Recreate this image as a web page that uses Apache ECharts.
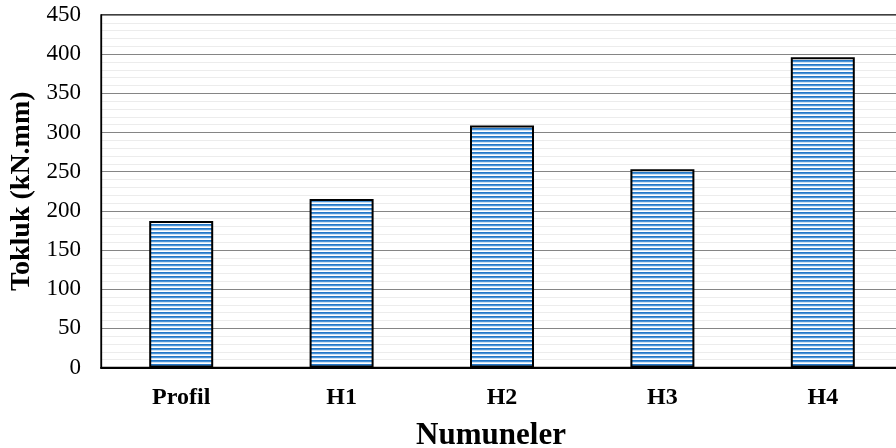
<!DOCTYPE html>
<html><head><meta charset="utf-8">
<script src="https://cdn.jsdelivr.net/npm/echarts@6/dist/echarts.min.js"></script>
<style>html,body{margin:0;padding:0;background:#fff}#c{width:896px;height:448px}</style>
</head><body><div id="c"></div>
<script>
const categories = ['Profil', 'H1', 'H2', 'H3', 'H4'];
const values = [187, 215, 309, 253, 396];
const yTicks = [0, 50, 100, 150, 200, 250, 300, 350, 400, 450];

const pc = document.createElement('canvas');
pc.width = 4; pc.height = 4;
const g = pc.getContext('2d');
const rows = ['#2477c8', '#4a93d6', '#cfe2f4', '#ffffff'];
rows.forEach((c, i) => { g.fillStyle = c; g.fillRect(0, i, 4, 1); });

const chart = echarts.init(document.getElementById('c'), null, {renderer: 'canvas'});
chart.setOption({
  animation: false,
  grid: {left: 101, right: -7, top: 15, bottom: 80.5, show: true, borderColor: '#000', borderWidth: 1.3,
         outerBoundsMode: 'none', containLabel: false},
  xAxis: {
    type: 'category', data: categories,
    axisLine: {lineStyle: {color: '#000', width: 2}},
    axisTick: {show: false},
    axisLabel: {fontFamily: 'Liberation Serif', fontWeight: 'bold', fontSize: 24, color: '#000', margin: 18},
    name: 'Numuneler', nameLocation: 'middle', nameGap: 53,
    nameTextStyle: {fontFamily: 'Liberation Serif', fontWeight: 'bold', fontSize: 31, color: '#000', padding: [0, 22, 0, 0]}
  },
  yAxis: {
    type: 'value', min: yTicks[0], max: yTicks[yTicks.length - 1], interval: 50,
    axisLine: {show: true, lineStyle: {color: '#000', width: 1.3}},
    axisTick: {show: false},
    axisLabel: {fontFamily: 'Liberation Serif', fontSize: 23, color: '#000', margin: 20},
    splitLine: {lineStyle: {color: '#858585', width: 1.2}},
    minorTick: {show: false, splitNumber: 5},
    minorSplitLine: {show: true, lineStyle: {color: '#ececec', width: 1}},
    name: 'Tokluk (kN.mm)', nameLocation: 'middle', nameGap: 65,
    nameTextStyle: {fontFamily: 'Liberation Serif', fontWeight: 'bold', fontSize: 28, color: '#000'}
  },
  series: [{
    type: 'bar', data: values, barWidth: 64,
    itemStyle: {color: {image: pc, repeat: 'repeat'}, borderColor: '#000', borderWidth: 2}
  }]
});
</script></body></html>
